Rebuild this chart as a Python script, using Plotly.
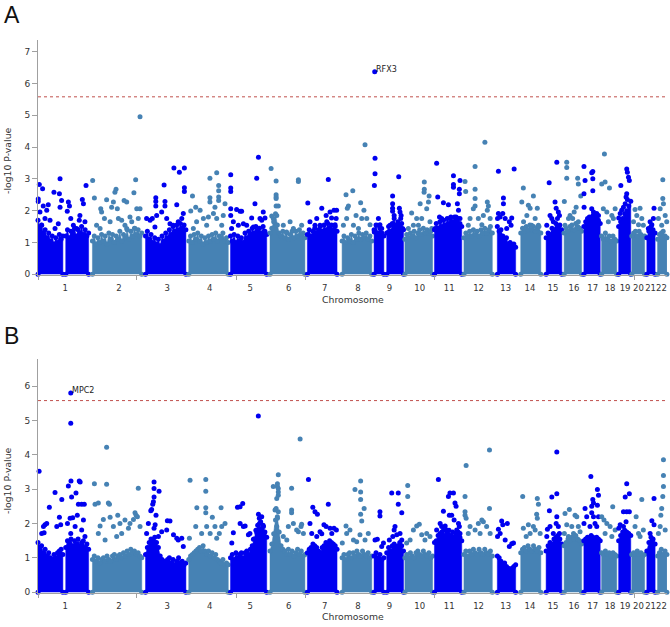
import plotly.graph_objects as go

W, H = 670, 627

# ---------------- data ----------------
chrom_names = [str(i) for i in range(1, 23)]
chrom_len = [249.3, 243.2, 198.0, 191.2, 180.9, 171.1, 159.1, 146.4, 141.2, 135.5, 135.0,
             133.9, 115.2, 107.3, 102.5, 90.4, 81.2, 78.1, 59.1, 63.0, 48.1, 51.3]
chrom_colors = ['#0000f0', '#4682b4']
threshold = 5.58
x_minor_ticks = [0, 452, 908, 1226, 1818, 2730]

# labelled hits: gene, chromosome, position (Mb), -log10 p
A_hits = [['RFX3', 9, 3.0, 6.37]]
B_hits = [['MPC2', 1, 150.0, 5.80]]

# extent of genotyped SNPs on each chromosome (Mb), split at gaps
band_span = [
    [[0, 114], [127, 232]], [[0, 226]], [[0, 185]], [[0, 181]], [[0, 166]], [[0, 160]],
    [[0, 136]], [[0, 136]], [[0, 45], [58, 135]], [[0, 127]], [[0, 125]], [[0, 130]],
    [[19, 103]], [[11, 103]], [[20, 92]], [[0, 80]], [[0, 75]], [[0, 69.5]], [[0, 55.6]],
    [[1, 60]], [[7, 45]], [[8, 51]],
]

# upper envelope of the dense SNP mass (-log10 p), evenly spread over each span
A_band = [
    [[1.7, 1.45, 1.55, 1.3, 1.4, 1.15, 1.3, 1.05, 1.2, 0.95, 1.15, 1.0, 1.25, 1.1, 1.2],
     [1.2, 1.4, 1.15, 1.35, 1.25, 1.45, 1.2, 1.4, 1.3, 1.5, 1.25, 1.4, 1.2, 1.3]],
    [[1.05, 1.2, 0.95, 1.15, 1.0, 1.25, 1.05, 1.2, 0.95, 1.3, 1.1, 1.25, 1.0, 1.2, 1.1, 1.35, 1.05, 1.25,
      1.15, 1.4, 1.1, 1.35, 1.2, 1.45, 1.25, 1.4, 1.2, 1.3]],
    [[1.2, 1.35, 1.1, 1.25, 1.0, 1.15, 0.95, 1.1, 0.9, 1.2, 1.05, 1.3, 1.15, 1.4, 1.25, 1.5, 1.35, 1.55,
      1.4, 1.6, 1.45, 1.55, 1.4]],
    [[1.05, 1.2, 1.0, 1.25, 1.1, 1.3, 1.05, 1.2, 0.95, 1.15, 1.0, 1.2, 1.05, 1.25, 1.1, 1.3, 1.05, 1.2,
      1.15, 1.3, 1.05, 1.15, 1.0]],
    [[1.2, 1.05, 1.25, 1.0, 1.2, 1.05, 1.15, 1.0, 1.3, 1.15, 1.35, 1.25, 1.45, 1.3, 1.5, 1.35, 1.45, 1.3,
      1.5, 1.35, 1.25]],
    [[1.3, 1.45, 1.65, 1.9, 1.55, 1.3, 1.2, 1.35, 1.15, 1.3, 1.1, 1.25, 1.35, 1.15, 1.35, 1.2, 1.4, 1.25,
      1.3, 1.15]],
    [[1.25, 1.4, 1.2, 1.35, 1.45, 1.3, 1.4, 1.5, 1.35, 1.55, 1.4, 1.6, 1.45, 1.55, 1.4, 1.5, 1.35]],
    [[1.05, 1.2, 1.0, 1.15, 1.05, 1.25, 1.0, 1.2, 1.1, 1.3, 1.1, 1.25, 1.15, 1.3, 1.1, 1.2, 1.05]],
    [[1.4, 1.55, 1.3, 1.45, 1.3, 1.2], [1.3, 1.5, 1.35, 1.6, 1.75, 1.5, 1.65, 1.55, 1.6, 1.4]],
    [[1.1, 1.25, 1.15, 1.3, 1.2, 1.35, 1.15, 1.3, 1.4, 1.25, 1.45, 1.3, 1.4, 1.3, 1.35, 1.2]],
    [[1.4, 1.6, 1.45, 1.65, 1.5, 1.7, 1.55, 1.75, 1.6, 1.8, 1.65, 1.8, 1.7, 1.75, 1.6, 1.5]],
    [[1.15, 1.3, 1.2, 1.35, 1.2, 1.4, 1.25, 1.35, 1.2, 1.4, 1.3, 1.45, 1.3, 1.4, 1.5, 1.3]],
    [[1.5, 1.35, 1.4, 1.2, 1.1, 1.15, 0.95, 1.0, 0.9, 0.95, 0.85]],
    [[1.3, 1.45, 1.35, 1.5, 1.4, 1.55, 1.4, 1.5, 1.35, 1.45, 1.5, 1.3]],
    [[1.15, 1.3, 1.25, 1.45, 1.4, 1.6, 1.5, 1.55, 1.4]],
    [[1.3, 1.45, 1.35, 1.5, 1.55, 1.4, 1.6, 1.5, 1.45, 1.35]],
    [[1.5, 1.65, 1.75, 1.8, 1.7, 1.85, 1.75, 1.8, 1.7, 1.6]],
    [[1.2, 1.1, 1.3, 1.1, 1.2, 1.05, 1.2, 1.1, 1.05]],
    [[1.5, 1.65, 1.75, 1.9, 2.0, 2.15, 2.3]],
    [[1.2, 1.3, 1.35, 1.2, 1.35, 1.25, 1.15, 1.2]],
    [[1.15, 1.35, 1.5, 1.4, 1.3]],
    [[1.1, 1.25, 1.3, 1.35, 1.2, 1.15]],
]
B_band = [
    [[1.45, 1.3, 1.35, 1.15, 1.25, 1.05, 1.15, 1.0, 0.95, 1.1, 1.0, 1.15, 1.2, 1.25, 1.1],
     [1.3, 1.5, 1.45, 1.55, 1.35, 1.5, 1.4, 1.55, 1.35, 1.45, 1.5, 1.3, 1.4, 1.25]],
    [[0.95, 1.05, 0.9, 1.0, 0.85, 0.95, 1.0, 0.9, 1.05, 0.95, 0.9, 1.05, 1.1, 0.95, 1.05, 1.1, 1.0, 1.15,
      1.05, 1.2, 1.1, 1.25, 1.15, 1.2, 1.1, 1.15, 1.05, 1.0]],
    [[1.1, 1.3, 1.45, 1.55, 1.5, 1.6, 1.45, 1.3, 1.05, 0.95, 0.9, 0.85, 0.95, 1.0, 0.85, 0.95, 0.8, 0.9,
      1.0, 0.85, 0.9, 0.8, 0.85]],
    [[0.95, 1.05, 1.1, 1.15, 1.2, 1.25, 1.3, 1.2, 1.35, 1.2, 1.1, 1.2, 1.05, 1.15, 1.0, 1.1, 0.95, 0.9,
      0.85, 0.95, 0.8, 0.85, 0.8]],
    [[1.0, 1.1, 0.95, 1.15, 1.0, 1.1, 1.15, 1.0, 1.15, 1.2, 1.1, 1.25, 1.35, 1.55, 1.8, 1.95, 2.0, 1.85,
      1.95, 1.75, 1.6]],
    [[1.2, 1.4, 1.7, 2.1, 2.2, 1.75, 1.35, 1.25, 1.2, 1.1, 1.25, 1.1, 1.2, 1.05, 1.15, 1.25, 1.1, 1.2,
      1.05, 1.1]],
    [[1.15, 1.25, 1.3, 1.4, 1.35, 1.3, 1.2, 1.15, 1.3, 1.35, 1.45, 1.4, 1.5, 1.45, 1.4, 1.35, 1.25]],
    [[1.0, 1.1, 0.95, 1.1, 1.15, 1.0, 1.15, 1.05, 1.2, 1.1, 1.05, 1.2, 1.1, 1.05, 1.15, 1.0, 1.05]],
    [[1.05, 1.15, 1.0, 1.1, 0.95, 1.0], [1.15, 1.3, 1.2, 1.35, 1.4, 1.3, 1.35, 1.45, 1.35, 1.2]],
    [[1.0, 1.1, 1.0, 1.15, 1.05, 1.0, 1.15, 1.2, 1.1, 1.05, 1.2, 1.1, 1.05, 1.15, 1.0, 1.05]],
    [[1.45, 1.5, 1.65, 1.7, 1.75, 1.8, 1.65, 1.75, 1.8, 1.65, 1.75, 1.6, 1.7, 1.75, 1.6, 1.5]],
    [[1.1, 1.2, 1.05, 1.2, 1.1, 1.25, 1.15, 1.1, 1.25, 1.15, 1.1, 1.25, 1.15, 1.1, 1.2, 1.05]],
    [[1.05, 1.0, 0.9, 0.8, 0.85, 0.75, 0.7, 0.65, 0.7, 0.75, 0.8]],
    [[1.15, 1.25, 1.3, 1.2, 1.35, 1.25, 1.2, 1.35, 1.25, 1.2, 1.3, 1.15]],
    [[1.2, 1.35, 1.45, 1.4, 1.55, 1.6, 1.65, 1.55, 1.4]],
    [[1.35, 1.45, 1.55, 1.5, 1.6, 1.55, 1.65, 1.55, 1.5, 1.4]],
    [[1.5, 1.55, 1.6, 1.55, 1.65, 1.6, 1.55, 1.6, 1.55, 1.5]],
    [[1.15, 1.1, 1.2, 1.1, 1.15, 1.05, 1.15, 1.1, 1.05]],
    [[1.5, 1.65, 1.75, 1.8, 1.75, 1.7, 1.65]],
    [[1.1, 1.15, 1.1, 1.2, 1.1, 1.15, 1.05, 1.1]],
    [[1.2, 1.45, 1.6, 1.55, 1.4]],
    [[1.05, 1.15, 1.25, 1.1, 1.2, 1.1]],
]

# individual SNPs above the dense mass: [position Mb, -log10 p] per chromosome
A_points = [
    [[6, 2.82], [1, 2.37], [1, 2.29], [21, 2.69], [24, 2.15], [47, 2.19], [40, 2.01], [73, 2.58], [101, 3.0],
     [98, 2.53], [108, 2.32], [101, 2.11], [9, 1.96], [32, 1.75], [55, 1.70], [17, 1.54], [78, 1.44], [93, 1.59],
     [139, 2.27], [144, 2.15], [134, 1.98], [150, 1.75], [203, 2.35], [208, 2.22], [220, 2.79], [189, 1.70],
     [177, 1.44], [162, 1.54], [192, 1.85], [215, 1.65], [159, 1.33]],
    [[1, 2.95], [9, 2.40], [38, 2.06], [42, 1.96], [65, 2.34], [55, 1.75], [96, 2.27], [103, 2.58], [108, 2.67],
     [114, 2.06], [88, 2.11], [145, 2.32], [157, 2.27], [190, 2.56], [198, 2.97], [203, 2.06], [218, 2.06],
     [210, 1.75], [119, 1.75], [134, 1.70], [149, 1.54], [172, 1.80], [180, 1.65], [19, 1.54], [35, 1.44],
     [81, 1.65], [157, 1.44], [195, 1.44], [218, 4.95]],
    [[85, 2.81], [47, 2.41], [47, 2.29], [47, 2.15], [89, 2.29], [89, 2.15], [130, 3.34], [155, 3.21], [178, 3.34],
     [178, 2.72], [178, 2.60], [143, 2.19], [173, 1.91], [166, 1.75], [5, 1.75], [21, 1.70], [31, 1.75], [51, 1.85],
     [74, 1.96], [97, 1.75], [112, 1.59], [43, 1.49], [127, 1.54], [150, 1.65]],
    [[17, 2.46], [9, 1.99], [32, 2.11], [97, 2.41], [97, 2.27], [97, 3.02], [128, 3.19], [137, 2.79], [137, 2.63],
     [137, 2.43], [137, 2.32], [166, 2.22], [52, 2.01], [67, 1.75], [90, 1.80], [113, 1.91], [158, 1.85],
     [36, 1.65], [82, 1.54], [128, 1.75], [151, 1.54], [21, 1.44], [120, 2.11]],
    [[1, 3.13], [1, 2.71], [1, 2.60], [1, 2.06], [1, 1.85], [5, 1.44], [28, 2.04], [44, 1.98], [13, 1.65],
     [36, 1.54], [59, 1.59], [51, 1.98], [128, 3.68], [120, 3.02], [112, 2.22], [97, 1.77], [135, 1.75],
     [143, 1.70], [158, 1.77], [74, 1.54], [105, 1.49], [150, 1.96]],
    [[5, 3.33], [28, 2.93], [28, 2.50], [28, 2.43], [28, 2.38], [28, 2.15], [38, 2.15], [8, 1.83], [31, 1.85],
     [130, 2.97], [130, 2.92], [61, 1.54], [92, 1.65], [107, 1.44], [145, 1.54], [76, 1.33], [15, 1.75]],
    [[2, 2.24], [66, 2.08], [96, 2.98], [86, 1.85], [104, 1.96], [122, 2.01], [134, 2.01], [132, 1.75],
     [111, 1.77], [89, 1.65], [58, 1.54], [35, 1.54], [12, 1.65], [43, 1.75], [127, 1.56]],
    [[18, 2.50], [49, 2.63], [29, 2.15], [24, 2.08], [85, 2.25], [100, 2.01], [105, 4.07], [64, 1.85], [90, 1.75],
     [21, 1.75], [128, 1.56], [52, 1.54], [6, 1.54], [75, 1.44], [113, 1.75]],
    [[4.5, 3.65], [4.5, 3.16], [1.5, 2.79], [20, 1.75], [15, 1.54], [27, 1.56], [35, 1.44], [1, 1.33],
     [85, 2.46], [85, 2.22], [85, 2.08], [85, 1.98], [92, 1.85], [113, 3.07], [116, 2.08], [119, 1.96],
     [124, 1.85], [122, 1.75], [104, 1.56], [73, 1.54], [66, 1.33], [131, 1.44]],
    [[31, 1.93], [89, 2.90], [89, 2.67], [88, 2.58], [70, 2.22], [111, 2.46], [108, 2.27], [100, 2.06],
     [54, 1.75], [39, 1.54], [77, 1.75], [115, 1.65], [16, 1.44], [62, 1.54], [123, 1.44]],
    [[10, 3.49], [15, 2.43], [41, 2.25], [64, 2.19], [87, 3.10], [87, 2.82], [87, 2.74], [117, 2.95],
     [114, 2.67], [114, 2.53], [105, 2.22], [110, 2.01], [99, 1.80], [117, 1.75], [79, 1.65], [23, 1.80],
     [33, 1.75], [71, 1.75], [49, 1.54], [3, 1.44]],
    [[5, 2.92], [8, 2.60], [51, 3.39], [51, 2.67], [51, 2.38], [51, 2.15], [96, 4.15], [107, 2.27], [112, 2.15],
     [107, 2.01], [89, 1.85], [66, 1.75], [28, 1.75], [82, 1.56], [20, 1.54], [120, 1.75], [43, 2.06]],
    [[24, 3.24], [47, 2.40], [47, 2.22], [96, 3.31], [24, 1.91], [32, 1.80], [44, 1.91], [55, 1.75], [74, 1.65],
     [85, 1.77], [82, 1.54], [20, 1.75], [62, 1.44]],
    [[23, 2.71], [16, 2.27], [69, 2.46], [46, 2.17], [54, 2.08], [87, 2.08], [39, 1.85], [77, 1.75], [24, 1.65],
     [92, 1.54], [61, 1.54]],
    [[34, 2.88], [69, 3.52], [61, 2.27], [66, 2.08], [76, 1.96], [81, 1.85], [38, 1.85], [46, 1.75], [53, 1.65],
     [23, 1.54], [72, 1.75]],
    [[12, 3.52], [12, 3.36], [12, 3.02], [1, 2.29], [62, 3.02], [65, 2.84], [55, 2.11], [46, 1.96], [27, 1.85],
     [20, 1.75], [39, 1.75], [65, 1.65], [4, 1.54], [76, 2.46]],
    [[0.5, 3.39], [5.5, 2.95], [0.5, 2.53], [41, 3.23], [36, 3.19], [41, 3.00], [41, 2.63], [36, 2.06],
     [44, 1.96], [59, 1.91], [51, 1.80], [67, 1.85], [28, 1.75], [13, 1.65], [1, 2.11]],
    [[0.7, 2.84], [16, 2.90], [13, 3.78], [36, 2.71], [8, 2.06], [24, 1.96], [47, 1.85], [54, 1.75], [62, 2.06],
     [31, 1.65]],
    [[10, 2.79], [37, 3.31], [40, 3.21], [45, 3.05], [49, 2.95], [37, 2.53], [34, 2.43], [40, 2.35], [30, 2.22],
     [22, 2.11], [14, 2.01], [7, 1.91], [0.5, 1.77]],
    [[16, 2.04], [39, 2.08], [24, 1.85], [47, 1.75], [9, 1.65], [54, 1.54], [32, 1.56]],
    [[40, 2.08], [22, 1.65], [30, 1.56], [37, 1.75], [14, 1.44]],
    [[32, 2.97], [32, 2.38], [35, 2.22], [20, 2.06], [43, 1.85], [12, 1.75], [50, 1.65], [27, 1.54]],
]

B_points = [
    [[5, 3.52], [78, 2.90], [52, 2.47], [109, 2.70], [32, 1.96], [25, 1.91], [40, 2.00], [17, 1.71], [28, 1.73],
     [98, 2.18], [86, 1.91], [104, 1.96], [139, 3.09], [151, 3.24], [154, 2.77], [174, 2.89], [189, 3.24],
     [193, 3.21], [185, 2.56], [200, 2.56], [212, 2.56], [180, 2.24], [147, 2.15], [159, 2.17], [208, 2.10],
     [135, 2.00], [150, 1.71], [170, 1.91], [200, 1.81], [215, 1.62], [150, 4.92]],
    [[9, 3.16], [65, 3.14], [65, 4.22], [12, 2.56], [27, 2.60], [73, 2.60], [78, 2.56], [210, 3.03], [116, 2.24],
     [81, 2.18], [50, 2.12], [35, 1.93], [27, 1.71], [96, 1.91], [126, 2.00], [149, 2.10], [172, 2.00],
     [188, 2.12], [195, 2.31], [200, 2.24], [206, 2.20], [218, 1.91], [165, 1.86], [134, 1.71], [111, 1.62],
     [58, 1.52]],
    [[39, 3.21], [39, 3.02], [62, 2.94], [39, 2.77], [36, 2.63], [33, 2.56], [28, 2.41], [24, 2.37], [48, 2.24],
     [13, 2.00], [44, 1.96], [39, 1.86], [5, 1.71], [100, 2.08], [112, 2.07], [97, 1.81], [143, 1.57],
     [150, 1.52], [166, 1.57], [128, 1.67], [173, 1.33], [74, 1.76], [59, 1.62]],
    [[6, 3.26], [78, 3.28], [78, 2.94], [78, 2.46], [78, 2.31], [37, 2.46], [108, 2.18], [148, 2.46], [3, 1.57],
     [32, 1.91], [59, 1.71], [82, 1.91], [98, 1.71], [120, 1.91], [140, 1.71], [151, 1.91], [166, 2.00],
     [128, 1.57]],
    [[32, 2.47], [44, 2.49], [56, 2.58], [13, 1.73], [6, 1.43], [44, 2.00], [59, 1.91], [67, 1.93], [82, 1.67],
     [105, 1.54], [128, 2.27], [132, 2.15], [143, 2.20], [138, 2.05], [89, 1.71], [151, 1.91], [158, 1.62],
     [120, 1.73], [127.5, 5.13]],
    [[38, 3.42], [34, 3.16], [34, 3.08], [38, 3.02], [38, 2.92], [38, 2.82], [31, 2.73], [28, 2.44], [23, 2.39],
     [38, 2.34], [34, 2.15], [31, 1.91], [15, 3.08], [99, 3.03], [99, 2.39], [99, 2.31], [138, 4.46],
     [142, 1.91], [145, 1.98], [130, 1.76], [84, 1.91], [107, 2.00], [122, 1.81], [153, 1.71], [61, 1.62],
     [77, 1.52]],
    [[5, 3.28], [25, 2.47], [35, 2.34], [46, 2.27], [96, 2.56], [76, 1.96], [86, 1.91], [104, 1.86], [122, 1.86],
     [133, 1.81], [58, 1.76], [66, 1.70], [12, 2.00], [20, 1.71], [43, 1.62], [112, 1.71]],
    [[59, 2.99], [85, 3.24], [85, 2.92], [85, 2.70], [85, 2.27], [90, 2.07], [101, 2.44], [18, 1.93], [1, 1.43],
     [21, 1.71], [52, 1.52], [67, 1.47], [105, 1.52], [120, 1.71], [82, 1.67], [36, 1.81]],
    [[27, 2.34], [27, 2.22], [4.5, 1.52], [15, 1.54], [35, 1.33], [43, 1.43], [81, 2.89], [111, 2.89],
     [111, 2.56], [127, 2.31], [92, 1.81], [104, 1.67], [70, 1.52], [119, 1.71], [96, 1.91], [127, 1.52],
     [86, 1.62]],
    [[13, 3.11], [13, 2.79], [39, 1.81], [54, 1.93], [66, 1.98], [24, 1.52], [77, 1.67], [100, 1.71], [115, 1.62],
     [8, 1.43], [92, 1.52]],
    [[18, 3.28], [41, 2.36], [64, 2.79], [71, 2.89], [68, 2.24], [26, 2.00], [33, 1.91], [10, 1.81], [49, 1.93],
     [56, 1.81], [79, 1.62], [94, 2.60], [99, 2.50], [87, 2.89], [79, 2.24], [114, 1.91], [110, 2.00],
     [102, 1.81], [117, 1.71], [90, 2.10]],
    [[10, 3.69], [5, 2.79], [5, 2.34], [5, 2.24], [10, 2.15], [117, 4.14], [117, 2.44], [89, 2.05], [82, 2.10],
     [66, 2.00], [51, 1.81], [28, 1.91], [104, 1.91], [120, 1.71], [20, 1.71], [74, 1.71]],
    [[24, 1.83], [39, 2.07], [65, 2.00], [44, 1.96], [32, 1.71], [85, 1.41], [93, 1.43], [55, 1.52], [74, 1.33],
     [20, 1.62]],
    [[20, 2.79], [87, 2.73], [92, 2.56], [84, 2.27], [87, 2.15], [46, 1.96], [23, 1.86], [69, 1.91], [54, 1.71],
     [36, 1.62], [77, 1.81], [100, 1.71]],
    [[69, 4.08], [46, 2.77], [69, 2.87], [35, 2.37], [69, 2.20], [66, 2.00], [76, 1.91], [38, 1.91], [26, 1.83],
     [53, 1.71], [23, 1.62], [81, 1.71]],
    [[4, 2.29], [24, 2.41], [50, 2.24], [58, 2.20], [12, 1.96], [35, 1.91], [65, 1.91], [43, 1.71], [1, 1.71],
     [20, 1.62], [73, 1.76]],
    [[32, 3.37], [62, 2.99], [67, 2.82], [62, 2.53], [41, 2.70], [44, 2.60], [36, 2.50], [36, 2.31], [44, 2.20],
     [5.5, 2.44], [13, 2.20], [0.5, 2.00], [28, 1.91], [59, 1.91], [67, 2.20], [51, 2.00]],
    [[51, 2.49], [0.7, 2.20], [11, 2.10], [24, 2.00], [39, 1.91], [62, 1.81], [16, 1.71], [47, 1.62]],
    [[37, 3.16], [30, 2.77], [49, 2.87], [22, 2.34], [37, 2.34], [49, 2.34], [34, 2.05], [7, 1.96], [0.5, 1.86],
     [22, 1.91], [45, 1.71]],
    [[47, 2.70], [21, 2.20], [32, 1.71], [16, 1.91], [39, 1.62], [54, 1.81]],
    [[40, 2.73], [30, 2.08], [40, 1.96], [22, 1.71], [34, 1.52]],
    [[35, 3.86], [35, 3.40], [35, 3.08], [32, 2.79], [27, 2.44], [23, 2.24], [20, 1.91], [12, 1.71], [43, 1.81]],
]

# ---------------- figure ----------------
starts = []
acc = 0.0
for L in chrom_len:
    starts.append(acc)
    acc += L
genome_end = acc
centers = [s + L / 2 for s, L in zip(starts, chrom_len)]


def px_x(p):
    return p / W


def px_y(p):
    return 1 - p / H


fig = go.Figure()


def add_panel(points, band, hits, xa, ya):
    for i in range(len(chrom_len)):
        col = chrom_colors[i % 2]
        s = starts[i]
        bx, by = [], []
        for (a, b), hs in zip(band_span[i], band[i]):
            n = len(hs)
            xs = [a + (b - a) * k / (n - 1) for k in range(n)]
            bx += [s + a] + [s + x for x in xs] + [s + b, None]
            by += [0] + hs + [0, None]
        fig.add_trace(go.Scatter(x=bx, y=by, mode='lines+markers', fill='toself', fillcolor=col,
                                 line=dict(width=0.5, color=col),
                                 marker=dict(size=5, color=col, line=dict(width=0)),
                                 cliponaxis=False, hoverinfo='skip',
                                 showlegend=False, xaxis=xa, yaxis=ya))
        fig.add_trace(go.Scatter(x=[s + p for p, v in points[i]], y=[v for p, v in points[i]],
                                 mode='markers', marker=dict(size=5, color=col, line=dict(width=0)),
                                 cliponaxis=False, showlegend=False, xaxis=xa, yaxis=ya))
    for name, c, p, v in hits:
        x = starts[c - 1] + p
        fig.add_trace(go.Scatter(x=[x], y=[v], mode='markers',
                                 marker=dict(size=5, color=chrom_colors[(c - 1) % 2]),
                                 cliponaxis=False, showlegend=False, xaxis=xa, yaxis=ya))
        fig.add_annotation(x=x, y=v, xref=xa, yref=ya, text=name, showarrow=False,
                           xanchor='left', yanchor='bottom', yshift=-4, xshift=-1,
                           font=dict(family='DejaVu Sans', size=8, color='#222'))
    fig.add_trace(go.Scatter(x=[0, genome_end], y=[threshold, threshold], mode='lines',
                             line=dict(color='#c0504d', width=1, dash='dot'),
                             showlegend=False, hoverinfo='skip', xaxis=xa, yaxis=ya))


add_panel(A_points, A_band, A_hits, 'x', 'y')
add_panel(B_points, B_band, B_hits, 'x2', 'y2')

axis_col = '#a0a0a0'
tick_font = dict(family='DejaVu Sans', size=8.5, color='#333')


def xaxis_cfg(anchor):
    return dict(domain=[px_x(38), px_x(667)], range=[0, genome_end], anchor=anchor,
                tickmode='array', tickvals=centers, ticktext=chrom_names, tickangle=0,
                ticks='', ticklabelstandoff=5, ticklabeloverflow='allow',
                minor=dict(tickmode='array', tickvals=x_minor_ticks, ticks='outside',
                           ticklen=4, tickcolor=axis_col, showgrid=False),
                showline=True, linecolor=axis_col, linewidth=1,
                showgrid=False, zeroline=False, tickfont=tick_font)


def yaxis_cfg(anchor, dom, top):
    return dict(domain=dom, range=[-0.03, top], anchor=anchor, tickmode='linear', tick0=0, dtick=1,
                ticks='outside', ticklen=5, tickcolor=axis_col, showline=True, linecolor=axis_col,
                linewidth=1, showgrid=False, zeroline=False,
                tickfont=dict(family='DejaVu Sans', size=9, color='#333'))


fig.update_layout(
    width=W, height=H, margin=dict(l=0, r=0, t=0, b=0),
    paper_bgcolor='white', plot_bgcolor='white', showlegend=False,
    xaxis=xaxis_cfg('y'),
    yaxis=yaxis_cfg('x', [px_y(277), px_y(40)], 7.375),
    xaxis2=xaxis_cfg('y2'),
    yaxis2=yaxis_cfg('x2', [px_y(597), px_y(361)], 6.8),
)

title_font = dict(family='DejaVu Sans', size=9.3, color='#333')
for ycen, xt in [(162, 301), (484, 620)]:
    fig.add_annotation(x=px_x(8), y=px_y(ycen), xref='paper', yref='paper', text='-log10 P-value',
                       textangle=-90, showarrow=False, font=title_font, xanchor='center', yanchor='middle',
                       borderpad=0)
    fig.add_annotation(x=px_x(352.5), y=px_y(xt), xref='paper', yref='paper', text='Chromosome',
                       showarrow=False, font=title_font, xanchor='center', yanchor='middle', borderpad=0)

for lab, ly in [('A', 15), ('B', 338)]:
    fig.add_annotation(x=px_x(11.5), y=px_y(ly), xref='paper', yref='paper', text=lab, showarrow=False,
                       font=dict(family='Liberation Sans', size=23, color='#111'),
                       xanchor='center', yanchor='middle')

fig.write_html('out.html', config={'displayModeBar': False},
               post_script="document.body.style.margin='0';document.body.style.padding='0';")
